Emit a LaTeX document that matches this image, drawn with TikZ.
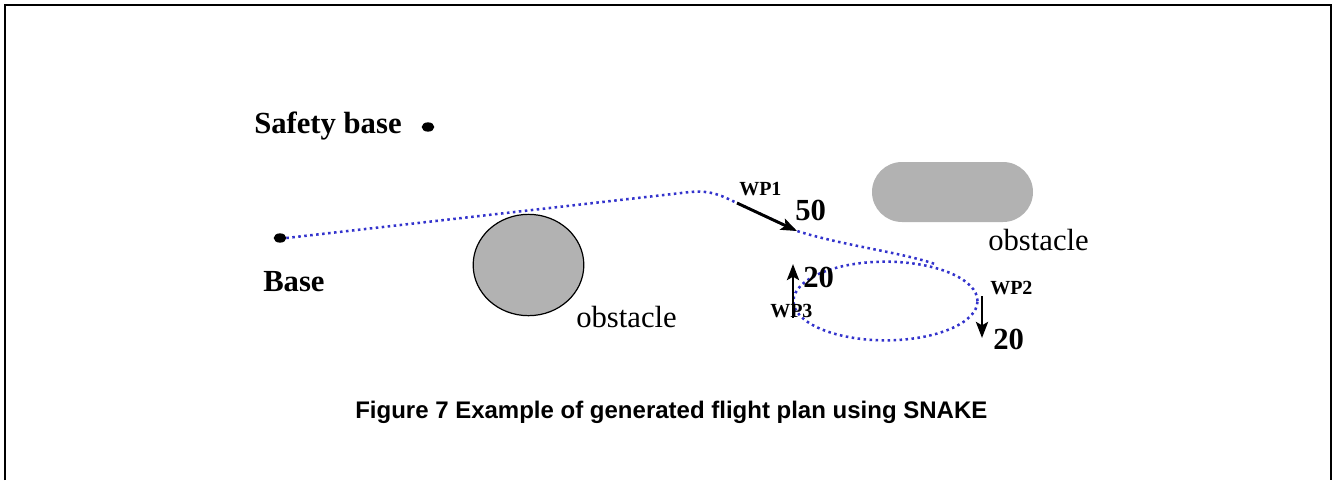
\documentclass[tikz,border=0pt]{standalone}
\usepackage{fontspec}
\setmainfont{Liberation Serif}
\setsansfont{Liberation Sans}
\usetikzlibrary{positioning,shapes.geometric,arrows.meta}
\definecolor{routeblue}{RGB}{51,51,204}
\begin{document}
\begin{tikzpicture}
[
x=0.75pt, y=-0.75pt,
label_big/.style={anchor=base west, inner sep=0pt, font=\fontsize{23}{27}\selectfont\bfseries},
label_wp/.style={anchor=base west, inner sep=0pt, font=\fontsize{15}{18}\selectfont\bfseries},
label_obs/.style={anchor=base west, inner sep=0pt, font=\fontsize{23}{27}\selectfont},
basept/.style={ellipse, fill=black, inner sep=0pt, outer sep=0pt, minimum width=9.5pt, minimum height=7pt},
obst/.style={fill=gray!60, inner sep=0pt, outer sep=0pt},
route/.style={draw=routeblue, line width=1.9pt, dash pattern=on 1.9pt off 2.6pt},
heading/.style={-{Stealth[length=12pt, width=9pt, inset=2.5pt]}, line width=2.2pt}
]
\useasboundingbox (0,0) rectangle (1336,480);
\draw[line width=2.2pt] (5,480) -- (5,5) -- (1331,5) -- (1331,480);

%Nodes
\node[label_big]    (safety_txt)  at (254,133)  {Safety base};
\node[basept]       (safety)      at (428,127)  {};
\node[basept]       (base)        at (280,238)  {};
\node[label_big]    (base_txt)    at (263,291)  {Base};
\node[ellipse, draw=black, line width=0.9pt, obst, minimum width=83pt, minimum height=76pt]
                    (obs1)        at (528.5,265) {};
\node[label_obs]    (obs1_txt)    at (576,327)  {obstacle};
\node[obst, rounded corners=22.5pt, minimum width=120.75pt, minimum height=45pt]
                    (obs2)        at (952.5,192) {};
\node[label_obs]    (obs2_txt)    at (988,250)  {obstacle};
\node[ellipse, route, minimum width=138pt, minimum height=59pt, inner sep=0pt, outer sep=0pt]
                    (orbit)       at (885.5,301) {};

\node[label_wp]     (wp1_txt)     at (739,195)  {WP1};
\node[label_big]    (wp1_val)     at (795,220)  {50};
\node[label_wp]     (wp2_txt)     at (990,294)  {WP2};
\node[label_big]    (wp2_val)     at (993,349)  {20};
\node[label_wp]     (wp3_txt)     at (770,317)  {WP3};
\node[label_big]    (wp3_val)     at (803,287)  {20};

\coordinate (crest)  at (690,192);
\coordinate (wp1)    at (737,203);
\coordinate (wp1_to) at (797,231);
\coordinate (join)   at (935,264);
\coordinate (wp2)    at (982,296);
\coordinate (wp2_to) at (982,338);
\coordinate (wp3)    at (793,318);
\coordinate (wp3_to) at (793,264);

%Lines
\draw[route] (base.east) -- (crest) .. controls (712,190) and (722,196) .. (wp1)
  -- (wp1_to) .. controls (845,246) and (900,252) .. (join);
\draw[heading] (wp1) -- (wp1_to);
\draw[heading] (wp2) -- (wp2_to);
\draw[heading] (wp3) -- (wp3_to);

\node[anchor=base west, inner sep=0pt, font=\sffamily\fontsize{18}{22}\selectfont\bfseries]
                    (caption)     at (355,418)
  {Figure 7 Example of generated flight plan using SNAKE};
\end{tikzpicture}
\end{document}
